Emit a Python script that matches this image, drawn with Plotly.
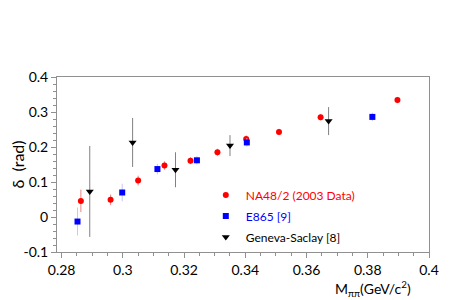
import plotly.graph_objects as go

# NA48/2 (2003 Data)
na48_x = [0.2863, 0.2960, 0.3050, 0.3136, 0.3221, 0.3309, 0.3403, 0.3510, 0.3646, 0.3897]
na48_y = [0.046, 0.049, 0.104, 0.147, 0.161, 0.185, 0.223, 0.243, 0.285, 0.334]
na48_e = [0.032, 0.015, 0.014, 0.012, 0.010, 0.010, 0.010, 0.009, 0.009, 0.009]

# E865 [9]
e865_x = [0.2852, 0.2998, 0.3113, 0.3242, 0.3405, 0.3815]
e865_y = [-0.013, 0.070, 0.137, 0.162, 0.213, 0.286]
e865_e = [0.040, 0.025, 0.015, 0.012, 0.012, 0.012]

# Geneva-Saclay [8]
gs_x = [0.2892, 0.3032, 0.3172, 0.3350, 0.3672]
gs_y = [0.073, 0.213, 0.135, 0.204, 0.274]
gs_e = [0.130, 0.070, 0.050, 0.030, 0.040]

x_ticks = [0.28, 0.30, 0.32, 0.34, 0.36, 0.38, 0.40]
x_labels = ["0.28", "0.3", "0.32", "0.34", "0.36", "0.38", "0.4"]
y_ticks = [-0.1, 0, 0.1, 0.2, 0.3, 0.4]
y_labels = ["-0.1", "0", "0.1", "0.2", "0.3", "0.4"]

FONT = "Lato"

fig = go.Figure()
fig.add_trace(go.Scatter(
    x=na48_x, y=na48_y, mode="markers", legendgroup="a",
    name="<span style='color:#ff0000'>NA48/2 (2003 Data)</span>",
    marker=dict(symbol="circle", size=6, color="#ff0000"),
    error_y=dict(type="data", array=na48_e, color="#f08080", thickness=1, width=0),
))
fig.add_trace(go.Scatter(
    x=e865_x, y=e865_y, mode="markers", legendgroup="b",
    name="<span style='color:#0000ff'>E865 [9]</span>",
    marker=dict(symbol="square", size=6, color="#0000ff"),
    error_y=dict(type="data", array=e865_e, color="#c8c8f0", thickness=1, width=0),
))
fig.add_trace(go.Scatter(
    x=gs_x, y=gs_y, mode="markers", legendgroup="c",
    name="<span style='color:#000000'>Geneva-Saclay [8]</span>",
    marker=dict(symbol="triangle-down", size=7, color="#000000"),
    error_y=dict(type="data", array=gs_e, color="#808080", thickness=1, width=0),
))

axis_common = dict(
    showgrid=False, zeroline=False, showline=True, mirror=True, automargin=False,
    linecolor="#909090", linewidth=1, ticks="outside", tickcolor="#909090",
    ticklen=5, tickfont=dict(family=FONT, size=14, color="#000000"),
)
fig.update_xaxes(range=[0.2785, 0.4], tickvals=x_ticks, ticktext=x_labels,
                 minor=dict(dtick=0.005, ticks="outside", ticklen=3, tickcolor="#909090"),
                 **axis_common)
fig.update_yaxes(range=[-0.1, 0.4], tickvals=y_ticks, ticktext=y_labels,
                 minor=dict(dtick=0.02, tick0=0, ticks="outside", ticklen=3, tickcolor="#909090"),
                 title=dict(text="δ  (rad)", font=dict(family=FONT, size=16, color="#000000"), standoff=0),
                 **axis_common)

fig.add_annotation(
    text="M<sub>ππ</sub>(GeV/c<sup>2</sup>)", xref="paper", yref="paper",
    x=0.957, y=-0.135, xanchor="right", yanchor="top", showarrow=False,
    font=dict(family=FONT, size=14, color="#000000"),
)

fig.update_layout(
    width=455, height=292,
    margin=dict(l=49, r=34, t=69, b=48),
    paper_bgcolor="white", plot_bgcolor="white",
    showlegend=True,
    legend=dict(x=0.40, y=0.408, xanchor="left", yanchor="top",
                bgcolor="rgba(0,0,0,0)", itemwidth=30, tracegroupgap=2,
                font=dict(family=FONT, size=12)),
    font=dict(family=FONT),
)

fig.write_html("out.html")
